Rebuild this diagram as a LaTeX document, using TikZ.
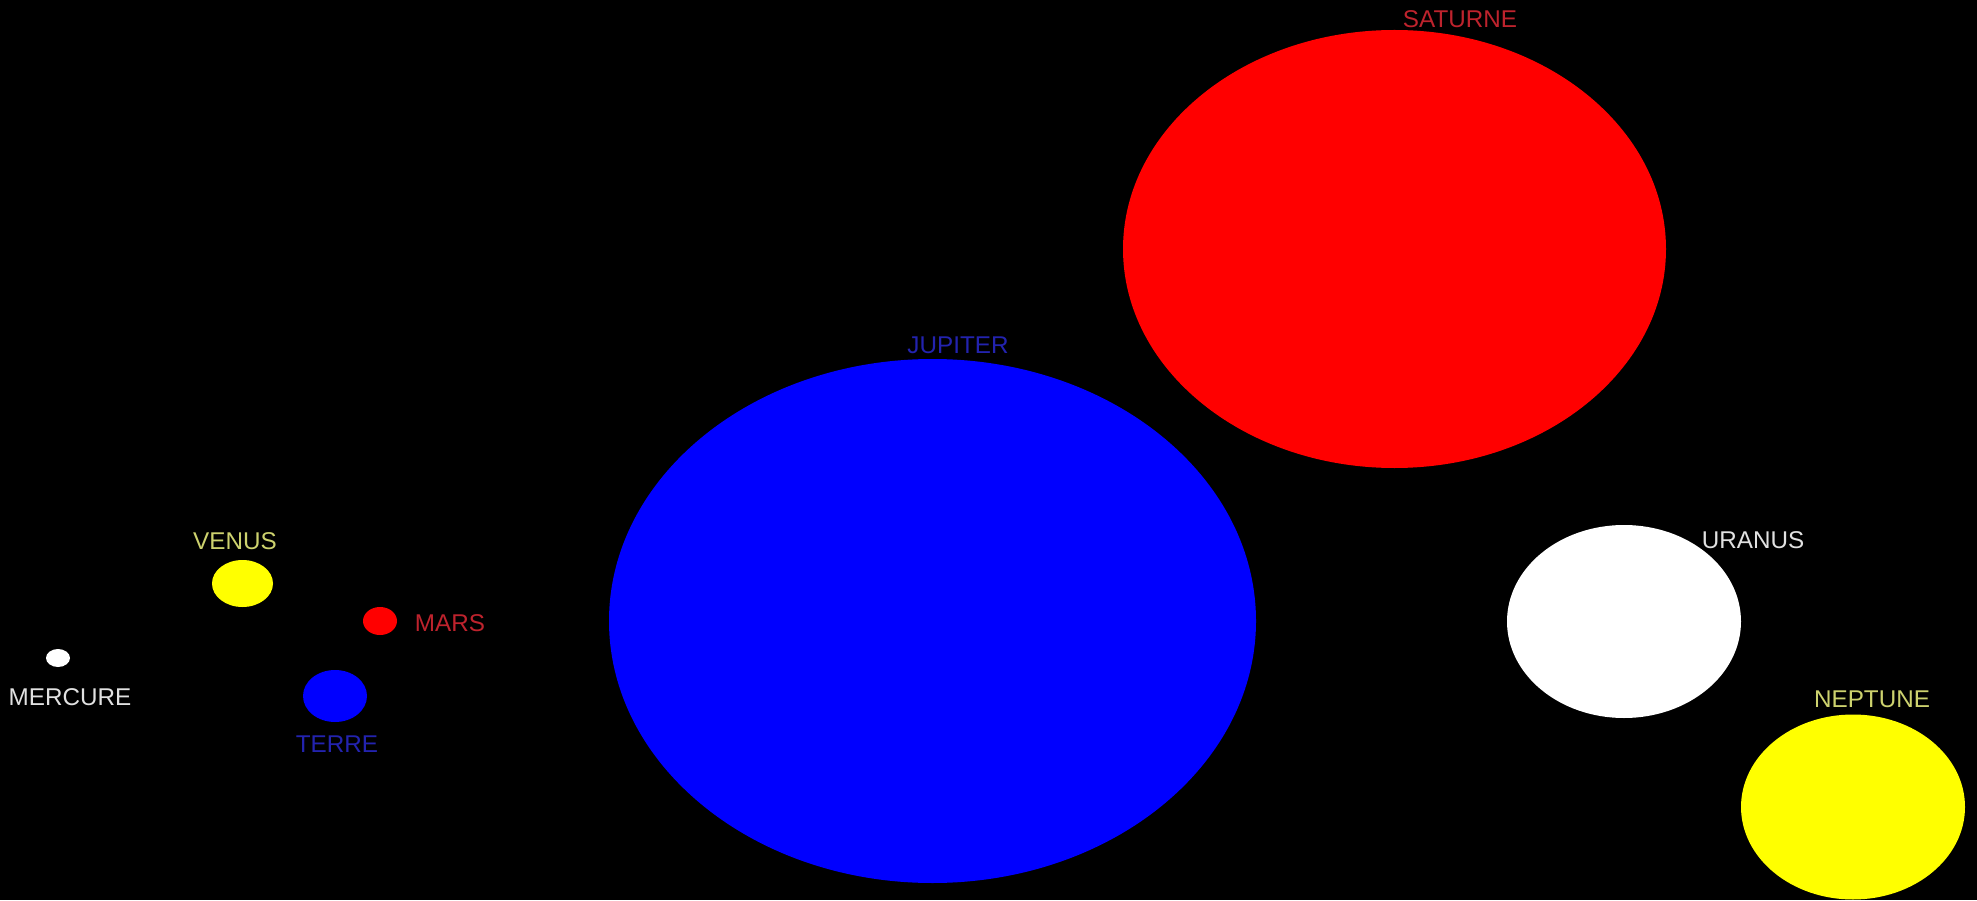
\documentclass[tikz,border=0pt]{standalone}
\usepackage{fontspec}
\setmainfont{Liberation Sans}
\usepackage{xcolor}
\usepackage{tikz}
\definecolor{PlanetRed}{RGB}{255,0,0}
\definecolor{PlanetBlue}{RGB}{0,0,255}
\definecolor{PlanetYellow}{RGB}{255,255,0}
\definecolor{LabelRed}{RGB}{190,35,45}
\definecolor{LabelBlue}{RGB}{35,35,175}
\definecolor{LabelYellow}{RGB}{205,210,110}
\definecolor{LabelWhite}{RGB}{225,225,225}

\begin{document}
\begin{tikzpicture}[every node/.style={inner sep=0pt, font=\fontsize{6.9}{8}\selectfont}]
		\fill[black] (0,0) rectangle (19.77,9);
		\useasboundingbox (0,0) rectangle (19.77,9);
		% planets, sizes not to scale
		\fill[PlanetRed] (13.945,6.51) ellipse (2.715cm and 2.19cm);
		\fill[PlanetBlue] (9.325,2.79) ellipse (3.235cm and 2.62cm);
		\fill[white] (16.24,2.785) ellipse (1.17cm and 0.965cm);
		\fill[PlanetYellow] (18.53,0.93) ellipse (1.12cm and 0.925cm);
		\fill[PlanetYellow] (2.425,3.165) ellipse (0.305cm and 0.235cm);
		\fill[PlanetRed] (3.80,2.79) ellipse (0.17cm and 0.14cm);
		\fill[white] (0.58,2.42) ellipse (0.12cm and 0.09cm);
		\fill[PlanetBlue] (3.35,2.04) ellipse (0.32cm and 0.26cm);
		
		\node[LabelRed] (saturne) at (14.60,8.81) {SATURNE};
		\node[LabelBlue] (jupiter) at (9.58,5.55) {JUPITER};
		\node[LabelWhite] (uranus) at (17.53,3.60) {URANUS};
		\node[LabelYellow] (neptune) at (18.72,2.01) {NEPTUNE};
		\node[LabelYellow] (venus) at (2.35,3.59) {VENUS};
		\node[LabelRed] (mars) at (4.50,2.77) {MARS};
		\node[LabelWhite] (mercure) at (0.70,2.03) {MERCURE};
		\node[LabelBlue] (terre) at (3.37,1.56) {TERRE};
	\end{tikzpicture}
\end{document}
